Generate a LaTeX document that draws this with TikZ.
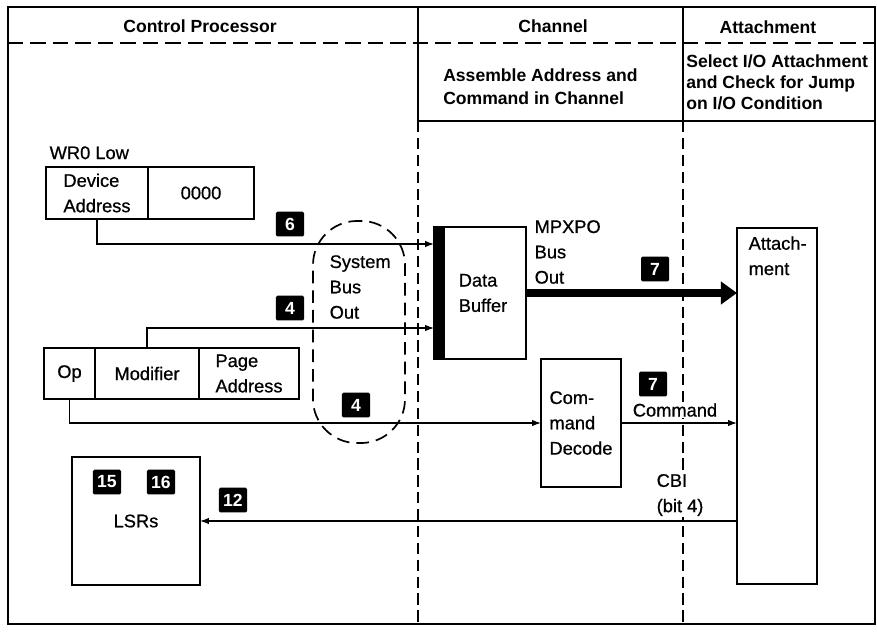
\documentclass[tikz,border=0pt]{standalone}
\usepackage{fontspec}
\setmainfont{Liberation Sans}
\newfontfamily\medfont[FakeBold=0.7]{Liberation Sans}
\usetikzlibrary{arrows.meta, positioning, calc}
\newcommand{\hdrfont}{\fontsize{12.5}{16}\selectfont\bfseries}
\newcommand{\txtfont}{\medfont\fontsize{13}{18}\selectfont}
\tikzset{
    frameline/.style={line width=1.4pt},
    colsep/.style={line width=1.3pt, dash pattern=on 8pt off 4pt},
    rowsep/.style={line width=1.1pt, dash pattern=on 11pt off 5pt},
    heading/.style={font=\hdrfont, inner sep=0pt},
    note/.style={font=\hdrfont, align=left, inner sep=0pt},
    cell/.style={rectangle, draw, line width=1.4pt, inner sep=0pt, outer sep=0pt, align=left, font=\txtfont},
    lbl/.style={font=\txtfont, align=left, inner sep=1pt},
    badge/.style={rectangle, fill=black, text=white, rounded corners=1pt, minimum width=0.7cm, minimum height=0.62cm, inner sep=1pt, font=\fontsize{12.5}{12.5}\selectfont\bfseries},
    busloop/.style={rectangle, draw, line width=1.2pt, dash pattern=on 9pt off 5pt, rounded corners=1.1cm},
    arrow/.style={-{Latex[length=2.2mm, width=1.6mm]}, line width=0.9pt},
    busarrow/.style={-{Triangle[length=0.4cm, width=0.55cm]}, line width=0.2cm}
}
\begin{document}
\begin{tikzpicture}[x=0.025cm, y=-0.025cm]
    \useasboundingbox (0,0) rectangle (877,632);
    % frame and column lines
    \draw[frameline] (8,7) rectangle (875,624);
    \draw[frameline] (418,7) -- (418,121) -- (875,121);
    \draw[frameline] (683,7) -- (683,121);
    \draw[rowsep] (8,43) -- (875,43);
    \draw[colsep] (418,121) -- (418,624);
    \draw[colsep] (683,121) -- (683,624);

    % headings
    \node[heading] (hcp) at (200,26) {Control Processor};
    \node[heading] (hch) at (553,26) {Channel};
    \node[heading] (hat) at (768,27) {Attachment};
    \node[note, anchor=west, font=\fontsize{12.5}{16.5}\selectfont\bfseries] (asm) at (443,87) {Assemble Address and\\Command in Channel};
    \node[note, anchor=west, font=\fontsize{12.5}{15}\selectfont\bfseries] (sel) at (686,82) {Select I/O Attachment\\and Check for Jump\\on I/O Condition};

    % control processor
    \node[cell, minimum width=2.55cm, minimum height=1.3cm] (dev) at (97,193) {Device\\Address};
    \node[cell, minimum width=2.65cm, minimum height=1.3cm, right=0pt of dev] (zero) {0000};
    \node[lbl, above right=0.15cm and 0.05cm of dev.north west] (wr0) {WR0 Low};
    \node[cell, minimum width=1.275cm, minimum height=1.275cm] (op) at (69.5,373.5) {Op};
    \node[cell, minimum width=2.6cm, minimum height=1.275cm, right=0pt of op] (mod) {Modifier};
    \node[cell, minimum width=2.5cm, minimum height=1.275cm, right=0pt of mod] (page) {Page\\Address};
    \node[cell, minimum width=3.2cm, minimum height=3.2cm] (lsr) at (136,521) {LSRs};

    % system bus
    \node[busloop, minimum width=2.3cm, minimum height=5.55cm] (sbus) at (359,332) {};
    \node[lbl, anchor=west] (sbustxt) at (328,287) {System\\Bus\\Out};

    % channel
    \node[cell, minimum width=2.3cm, minimum height=3.3cm] (buf) at (480,293) {\hspace*{0.15cm}Data\\\hspace*{0.15cm}Buffer};
    \fill (buf.north west) rectangle ($(buf.south west)+(11,0)$);
    \node[lbl, anchor=west] (mpx) at (533,252) {MPXPO\\Bus\\Out};
    \node[cell, minimum width=2cm, minimum height=3.2cm] (cmd) at (581,423) {Com-\\mand\\Decode};

    % attachment
    \node[cell, minimum width=2cm, minimum height=8.9cm] (att) at (777,406) {};
    \node[lbl, below right=0.17cm and 0.25cm of att.north west] (atttxt) {Attach-\\ment};

    % labels on the lines
    \node[lbl, fill=white] (cmdtxt) at (675,410) {Command};
    \node[lbl, fill=white, anchor=west] (cbi) at (655,495) {CBI\\(bit 4)};

    % step numbers
    \node[badge] (b6) at (290,224) {6};
    \node[badge] (b4a) at (290,308) {4};
    \node[badge] (b4b) at (356,405) {4};
    \node[badge] (b7a) at (655,269) {7};
    \node[badge] (b7b) at (653,384) {7};
    \node[badge] (b12) at (233,500) {12};
    \node[badge] (b15) at (107,482) {15};
    \node[badge] (b16) at (161,482) {16};

    % connectors
    \coordinate (in6) at (434,244);
    \coordinate (in4) at (434,328);
    \draw[arrow] (dev.south) |- (in6);
    \draw[arrow] (mod.north) |- (in4);
    \draw[arrow] (op.south) |- (cmd.west);
    \draw[arrow] (cmd.east) -- (att.west |- cmd.east);
    \draw[arrow] (att.west |- lsr.east) -- (lsr.east);
    \draw[busarrow] (buf.east) -- (att.west |- buf.east);
\end{tikzpicture}
\end{document}
